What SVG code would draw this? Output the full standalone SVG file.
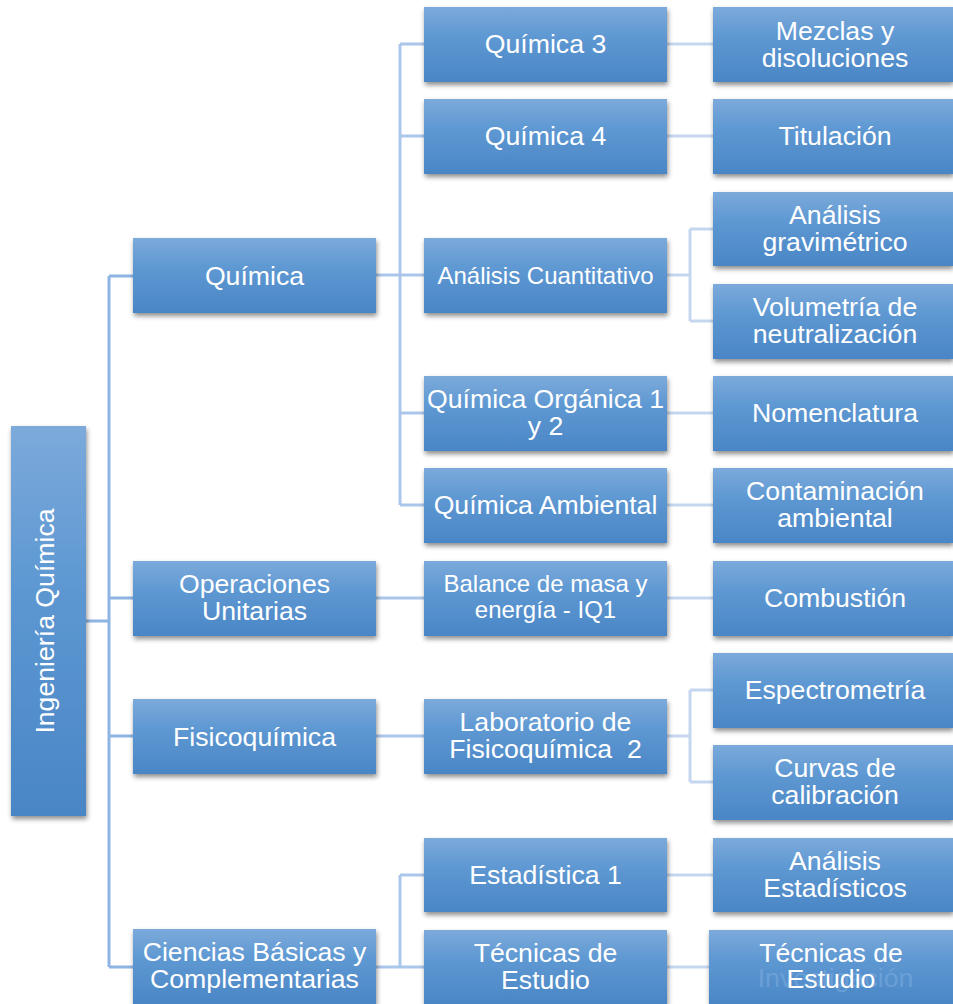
<svg xmlns="http://www.w3.org/2000/svg" width="953" height="1004" viewBox="0 0 953 1004">
<defs>
<linearGradient id="g" x1="0" y1="0" x2="0" y2="1">
<stop offset="0" stop-color="#7caadb"/>
<stop offset="0.4" stop-color="#5e98d2"/>
<stop offset="1" stop-color="#4a86c6"/>
</linearGradient>
<filter id="sh" x="-10%" y="-10%" width="125%" height="130%">
<feDropShadow dx="1" dy="3" stdDeviation="2.5" flood-color="#000" flood-opacity="0.45"/>
</filter>
</defs>
<style>
.b{fill:url(#g);filter:url(#sh)}
.t{font-family:"Liberation Sans",Arial,sans-serif;font-size:26.67px;fill:#fff;text-anchor:middle}
.s{font-size:24px}
.c0{fill:none;stroke:#8eb4e3;stroke-width:3}
.c1{fill:none;stroke:#aac6ea;stroke-width:3}
.c2{fill:none;stroke:#c5d7ef;stroke-width:3}
.gh{font-family:"Liberation Sans",Arial,sans-serif;font-size:26.67px;fill:#7eaee0;fill-opacity:0.55;text-anchor:middle}
</style>
<rect width="953" height="1004" fill="#fff"/>
<g id="connectors">
<path class="c0" d="M86 621H109M109 276V967M109 276H133M109 598H133M109 736H133M109 967H133"/>
<path class="c1" d="M376 275H400M400 44V505M400 44H424M400 136H424M400 275H424M400 413H424M400 505H424M376 598H424M376 736H424M376 967H424M400 875V967M400 875H424"/>
<path class="c2" d="M667 44H713M667 136H713M667 275H690M690 229V321M690 229H713M690 321H713M667 413H713M667 505H713M667 598H713M667 736H690M690 690V782M690 690H713M690 782H713M667 875H713M667 967H709"/>
</g>
<g id="root"><rect class="b" x="11" y="426" width="75" height="390"/><text class="t" transform="translate(54 621) rotate(-90)">Ingeniería Química</text></g>
<g id="quimica"><rect class="b" x="133" y="238" width="243" height="75"/><text class="t" x="254.5" y="284.5">Química</text></g>
<g id="operaciones"><rect class="b" x="133" y="561" width="243" height="75"/><text class="t" x="254.5" y="593">Operaciones</text><text class="t" x="254.5" y="620">Unitarias</text></g>
<g id="fisicoquimica"><rect class="b" x="133" y="699" width="243" height="75"/><text class="t" x="254.5" y="745.5">Fisicoquímica</text></g>
<g id="ciencias"><rect class="b" x="133" y="929" width="243" height="75"/><text class="t" x="254.5" y="961">Ciencias Básicas y</text><text class="t" x="254.5" y="988">Complementarias</text></g>
<g id="quimica3"><rect class="b" x="424" y="7" width="243" height="75"/><text class="t" x="545.5" y="53">Química 3</text></g>
<g id="quimica4"><rect class="b" x="424" y="99" width="243" height="75"/><text class="t" x="545.5" y="145">Química 4</text></g>
<g id="analisis-cuantitativo"><rect class="b" x="424" y="238" width="243" height="75"/><text class="t s" x="545.5" y="283.5">Análisis Cuantitativo</text></g>
<g id="organica"><rect class="b" x="424" y="376" width="243" height="75"/><text class="t" x="545.5" y="408">Química Orgánica 1</text><text class="t" x="545.5" y="435">y 2</text></g>
<g id="ambiental"><rect class="b" x="424" y="468" width="243" height="75"/><text class="t" x="545.5" y="514">Química Ambiental</text></g>
<g id="balance"><rect class="b" x="424" y="561" width="243" height="75"/><text class="t s" x="545.5" y="592">Balance de masa y</text><text class="t s" x="545.5" y="618">energía - IQ1</text></g>
<g id="laboratorio"><rect class="b" x="424" y="699" width="243" height="75"/><text class="t" x="545.5" y="731">Laboratorio de</text><text class="t" x="545.5" y="758" xml:space="preserve">Fisicoquímica  2</text></g>
<g id="estadistica1"><rect class="b" x="424" y="838" width="243" height="74"/><text class="t" x="545.5" y="884">Estadística 1</text></g>
<g id="tecnicas-estudio"><rect class="b" x="424" y="930" width="243" height="74"/><text class="t" x="545.5" y="962">Técnicas de</text><text class="t" x="545.5" y="989">Estudio</text></g>
<g id="mezclas"><rect class="b" x="713" y="7" width="240" height="75"/><text class="t" x="835" y="40">Mezclas y</text><text class="t" x="835" y="67">disoluciones</text></g>
<g id="titulacion"><rect class="b" x="713" y="99" width="240" height="75"/><text class="t" x="835" y="145">Titulación</text></g>
<g id="gravimetrico"><rect class="b" x="713" y="192" width="240" height="74"/><text class="t" x="835" y="224">Análisis</text><text class="t" x="835" y="251">gravimétrico</text></g>
<g id="volumetria"><rect class="b" x="713" y="284" width="240" height="75"/><text class="t" x="835" y="316">Volumetría de</text><text class="t" x="835" y="343">neutralización</text></g>
<g id="nomenclatura"><rect class="b" x="713" y="376" width="240" height="75"/><text class="t" x="835" y="422">Nomenclatura</text></g>
<g id="contaminacion"><rect class="b" x="713" y="468" width="240" height="75"/><text class="t" x="835" y="500">Contaminación</text><text class="t" x="835" y="527">ambiental</text></g>
<g id="combustion"><rect class="b" x="713" y="561" width="240" height="75"/><text class="t" x="835" y="607">Combustión</text></g>
<g id="espectrometria"><rect class="b" x="713" y="653" width="240" height="75"/><text class="t" x="835" y="699">Espectrometría</text></g>
<g id="curvas"><rect class="b" x="713" y="745" width="240" height="75"/><text class="t" x="835" y="777">Curvas de</text><text class="t" x="835" y="804">calibración</text></g>
<g id="analisis-estadisticos"><rect class="b" x="713" y="838" width="240" height="74"/><text class="t" x="835" y="870">Análisis</text><text class="t" x="835" y="897">Estadísticos</text></g>
<g id="tecnicas-estudio-2"><rect class="b" x="709" y="930" width="244" height="74"/><text class="gh" x="835.5" y="987">Investigación</text><text class="t" x="831" y="962">Técnicas de</text><text class="t" x="831" y="988">Estudio</text></g>
</svg>
